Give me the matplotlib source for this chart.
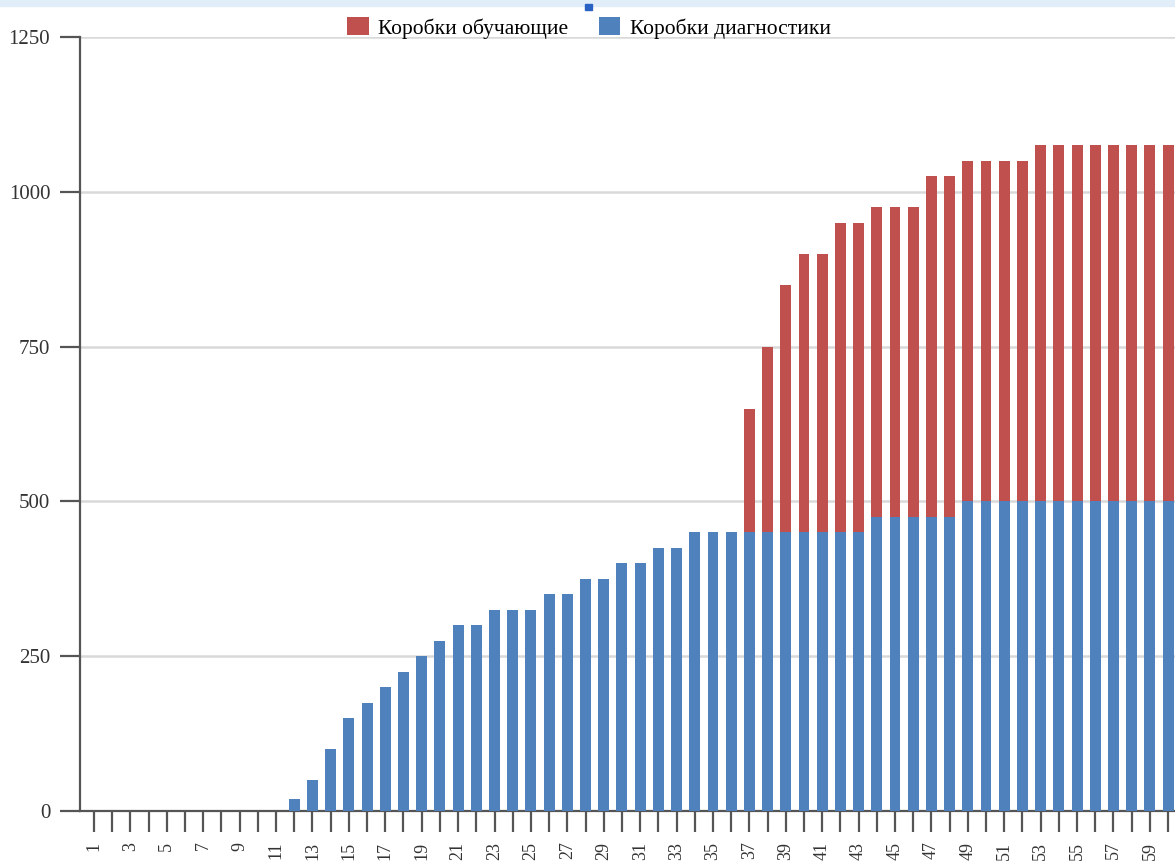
import numpy as np
import matplotlib
matplotlib.use("Agg")
import matplotlib.pyplot as plt
from matplotlib.patches import Rectangle

plt.rcParams['font.family'] = ['Liberation Serif', 'DejaVu Serif']

# Day numbers 1..60
days = list(range(1, 61))

# Коробки диагностики (blue, bottom)
diagnostics = [0] * 11 + [20, 50, 100, 150, 175, 200, 225, 250, 275, 300,
                          300, 325, 325, 325, 350, 350, 375, 375, 400, 400,
                          425, 425, 450, 450, 450, 450, 450, 450, 450, 450,
                          450, 450, 475, 475, 475, 475, 475, 500, 500, 500,
                          500, 500, 500, 500, 500, 500, 500, 500, 500]

# Коробки обучающие (red, stacked on top)
training = [0] * 36 + [200, 300, 400, 450, 450, 500, 500, 500, 500, 500,
                       550, 550, 550, 550, 550, 550, 575, 575, 575, 575,
                       575, 575, 575, 575]

tick_labels = [str(d) if d % 2 == 1 else '' for d in days]

BLUE = '#4f81bd'
RED = '#c0504d'

fig = plt.figure(figsize=(11.75, 8.65), dpi=100)
ax = fig.add_axes([80 / 1175, 54 / 865, 1 - 80 / 1175, (811 - 37) / 865])

ax.bar(days, diagnostics, width=0.6, color=BLUE, label='Коробки диагностики', zorder=3)
ax.bar(days, training, width=0.6, bottom=diagnostics, color=RED,
       label='Коробки обучающие', zorder=3)

ax.set_ylim(0, 1250)
ax.set_xlim(0.23, 60.38)
ax.set_yticks([0, 250, 500, 750, 1000, 1250])
ax.set_xticks(days)
ax.set_xticklabels(tick_labels, rotation=90)

ax.grid(axis='y', color='#d9d9d9', linewidth=1.8, zorder=0)
for side in ['top', 'right']:
    ax.spines[side].set_visible(False)
for side in ['left', 'bottom']:
    ax.spines[side].set_color('#555555')
    ax.spines[side].set_linewidth(1.6)

ax.tick_params(axis='y', direction='out', length=14.4, width=1.6, color='#555555',
               pad=7, labelsize=15, labelcolor='#333333')
ax.tick_params(axis='x', direction='out', length=15, width=1.6, color='#555555',
               pad=7, labelsize=13, labelcolor='#333333')

# legend: red first, then blue
handles, labels = ax.get_legend_handles_labels()
fig.legend([handles[1], handles[0]], [labels[1], labels[0]], loc='center',
           bbox_to_anchor=(589 / 1175, 1 - 28 / 865), ncol=2, frameon=False,
           fontsize=15.5, handlelength=1.0, handleheight=0.9, columnspacing=1.4,
           handletextpad=0.45)

# light header strip at the top and small marker
fig.patches.append(Rectangle((0, 1 - 6 / 865), 1, 6 / 865, transform=fig.transFigure,
                             color='#e1edf9', zorder=0))
fig.patches.append(Rectangle((585 / 1175, 1 - 10 / 865), 7 / 1175, 6 / 865,
                             transform=fig.transFigure, color='#2a62c4', zorder=1))

fig.savefig('out.png', dpi=100)
